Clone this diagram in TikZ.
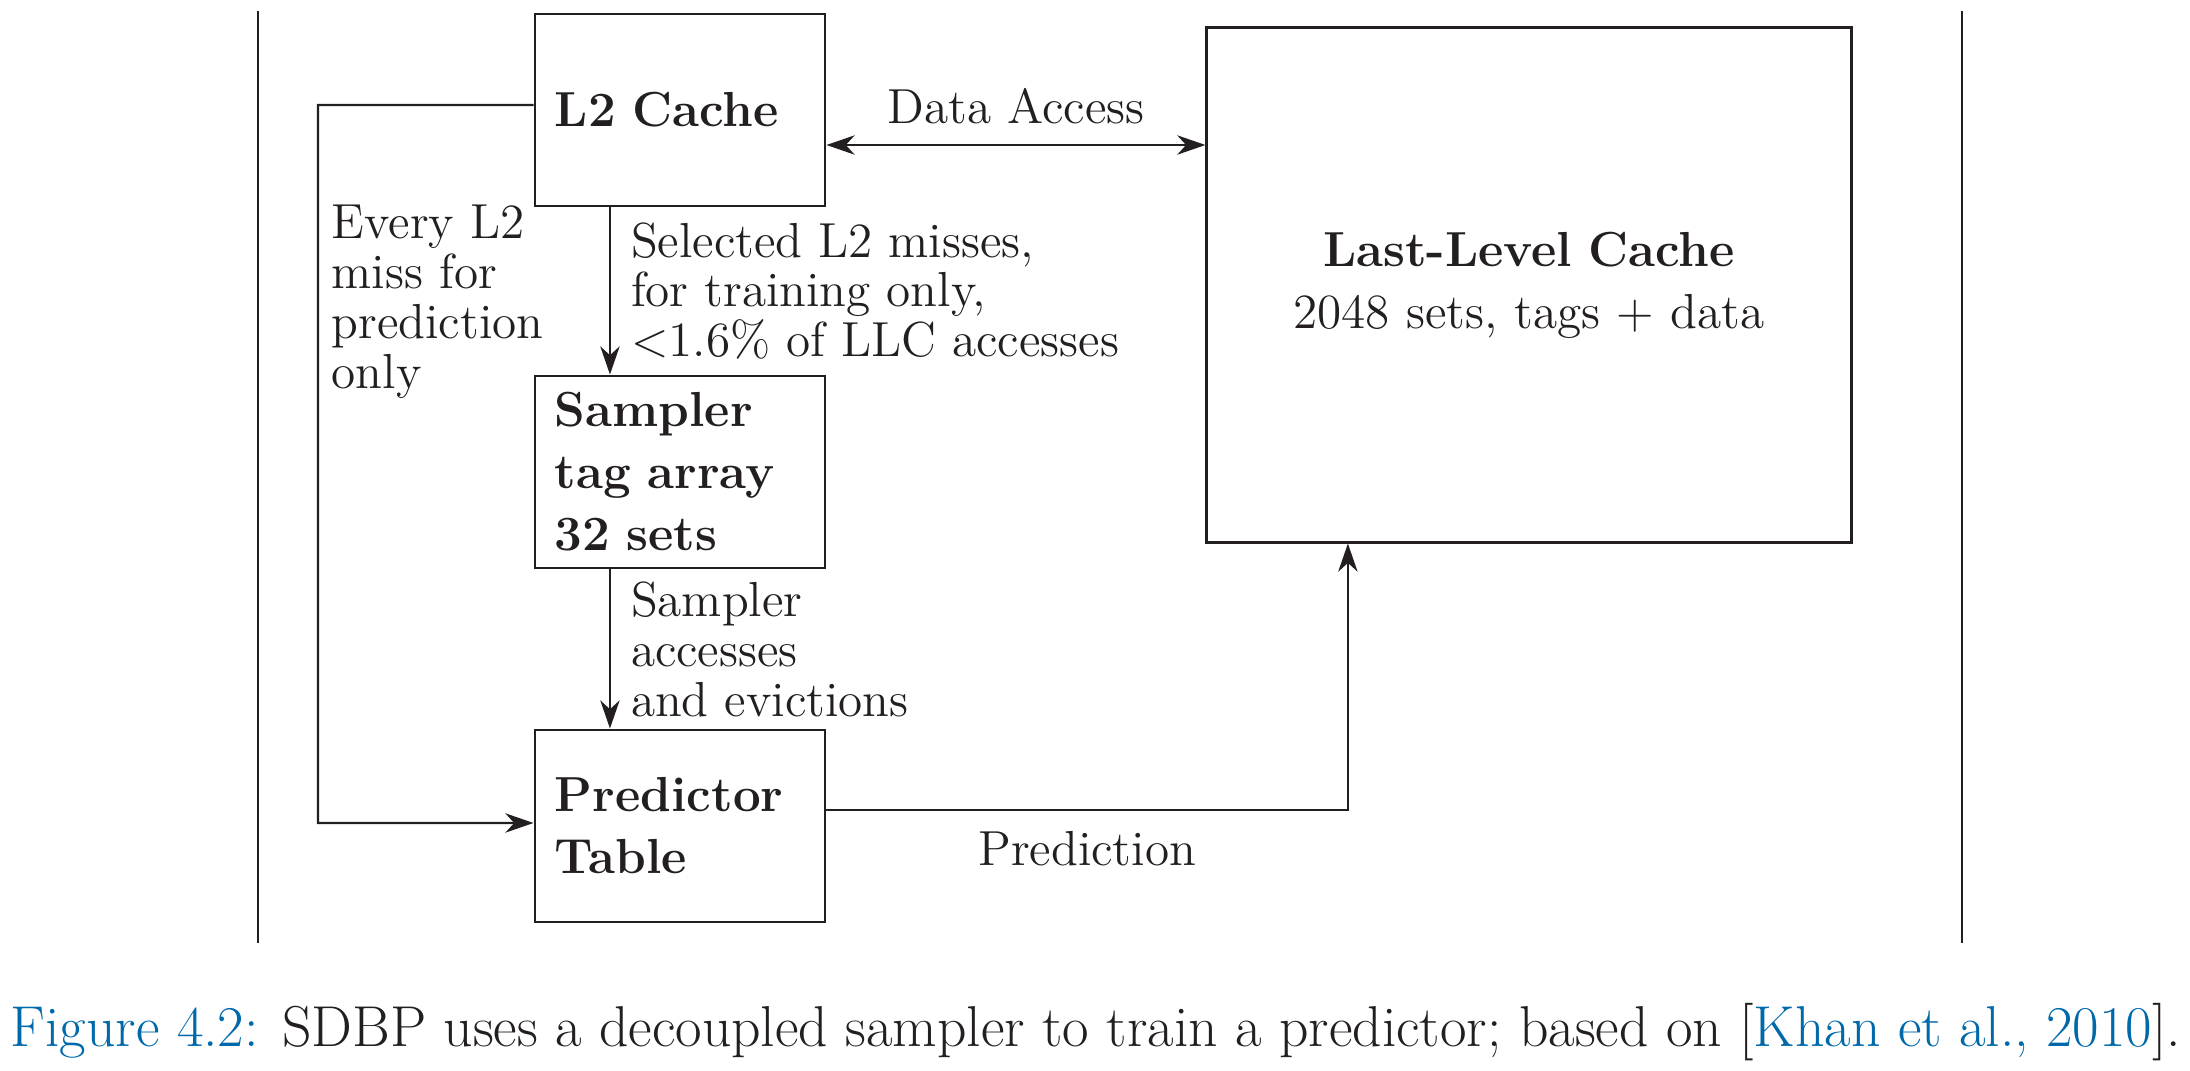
\documentclass[tikz,border=0pt]{standalone}
\usepackage{tikz}
\usepackage{amsmath}
\usepackage{color}
\usetikzlibrary{arrows.meta}

\definecolor{capblue}{RGB}{0,105,170}
\definecolor{inkgray}{RGB}{35,31,32}

\begin{document}
\begin{tikzpicture}[x=0.01cm, y=-0.01cm, color=inkgray,
	box/.style={draw, line width=0.8pt, minimum width=2.9cm, minimum height=1.92cm,
		text width=2.5cm, inner xsep=0.2cm, align=left,
		font=\fontsize{14}{17.6}\selectfont\bfseries},
	lbl/.style={inner sep=0pt, align=left, font=\fontsize{14}{14.2}\selectfont},
	conn/.style={line width=0.6pt, -{Stealth[length=8pt, width=5.5pt, inset=2.5pt]}},
	tipboth/.style={line width=0.6pt, {Stealth[length=8pt, width=5.5pt, inset=2.5pt]}-{Stealth[length=8pt, width=5.5pt, inset=2.5pt]}}]
	\useasboundingbox (0,0) rectangle (2190,1071);
	% side rules
	\draw[line width=0.6pt] (258,11)--(258,943);
	\draw[line width=0.6pt] (1962,11)--(1962,943);
	% boxes
	\node[box] (l2) at (680,110) {L2 Cache};
	\node[box] (smp) at (680,472) {Sampler\\tag array\\32 sets};
	\node[box] (pred) at (680,826) {Predictor\\Table};
	\node[box, minimum width=6.44cm, minimum height=5.14cm, text width=6cm, align=center] (llc) at (1529,285)
		{Last-Level Cache\\\mdseries 2048 sets, tags + data};
	% connectors
	\draw[tipboth] ([yshift=-0.35cm]l2.east) -- ([yshift=-0.35cm]l2.east -| llc.west)
		node[lbl, midway, above=0.2cm] (dalbl) {Data Access};
	\draw[conn] ([xshift=-0.7cm]l2.south) -- ([xshift=-0.7cm]smp.north)
		node[lbl, midway, right=0.2cm] (sellbl) {Selected L2 misses,\\for training only,\\<1.6\% of LLC accesses};
	\draw[conn] ([xshift=-0.7cm]smp.south) -- ([xshift=-0.7cm]pred.north)
		node[lbl, midway, right=0.2cm] (smplbl) {Sampler\\accesses\\and evictions};
	\coordinate (loop) at (318,105);
	\draw[conn] ([yshift=0.05cm]l2.west) -- (loop) |- ([yshift=0.03cm]pred.west);
	\node[lbl, anchor=west] (everylbl) at (331,302) {Every L2\\miss for\\prediction\\only};
	\draw[conn] ([yshift=0.16cm]pred.east) -| ([xshift=-1.81cm]llc.south)
		node[lbl, pos=0.25, below=0.2cm] (predlbl) {Prediction};
	% caption
	\node[font=\fontsize{16.4}{18}\selectfont] (caption) at (1096,1032)
		{\textcolor{capblue}{Figure 4.2:} SDBP uses a decoupled sampler to train a predictor; based on [\textcolor{capblue}{Khan et al., 2010}].};
\end{tikzpicture}
\end{document}
